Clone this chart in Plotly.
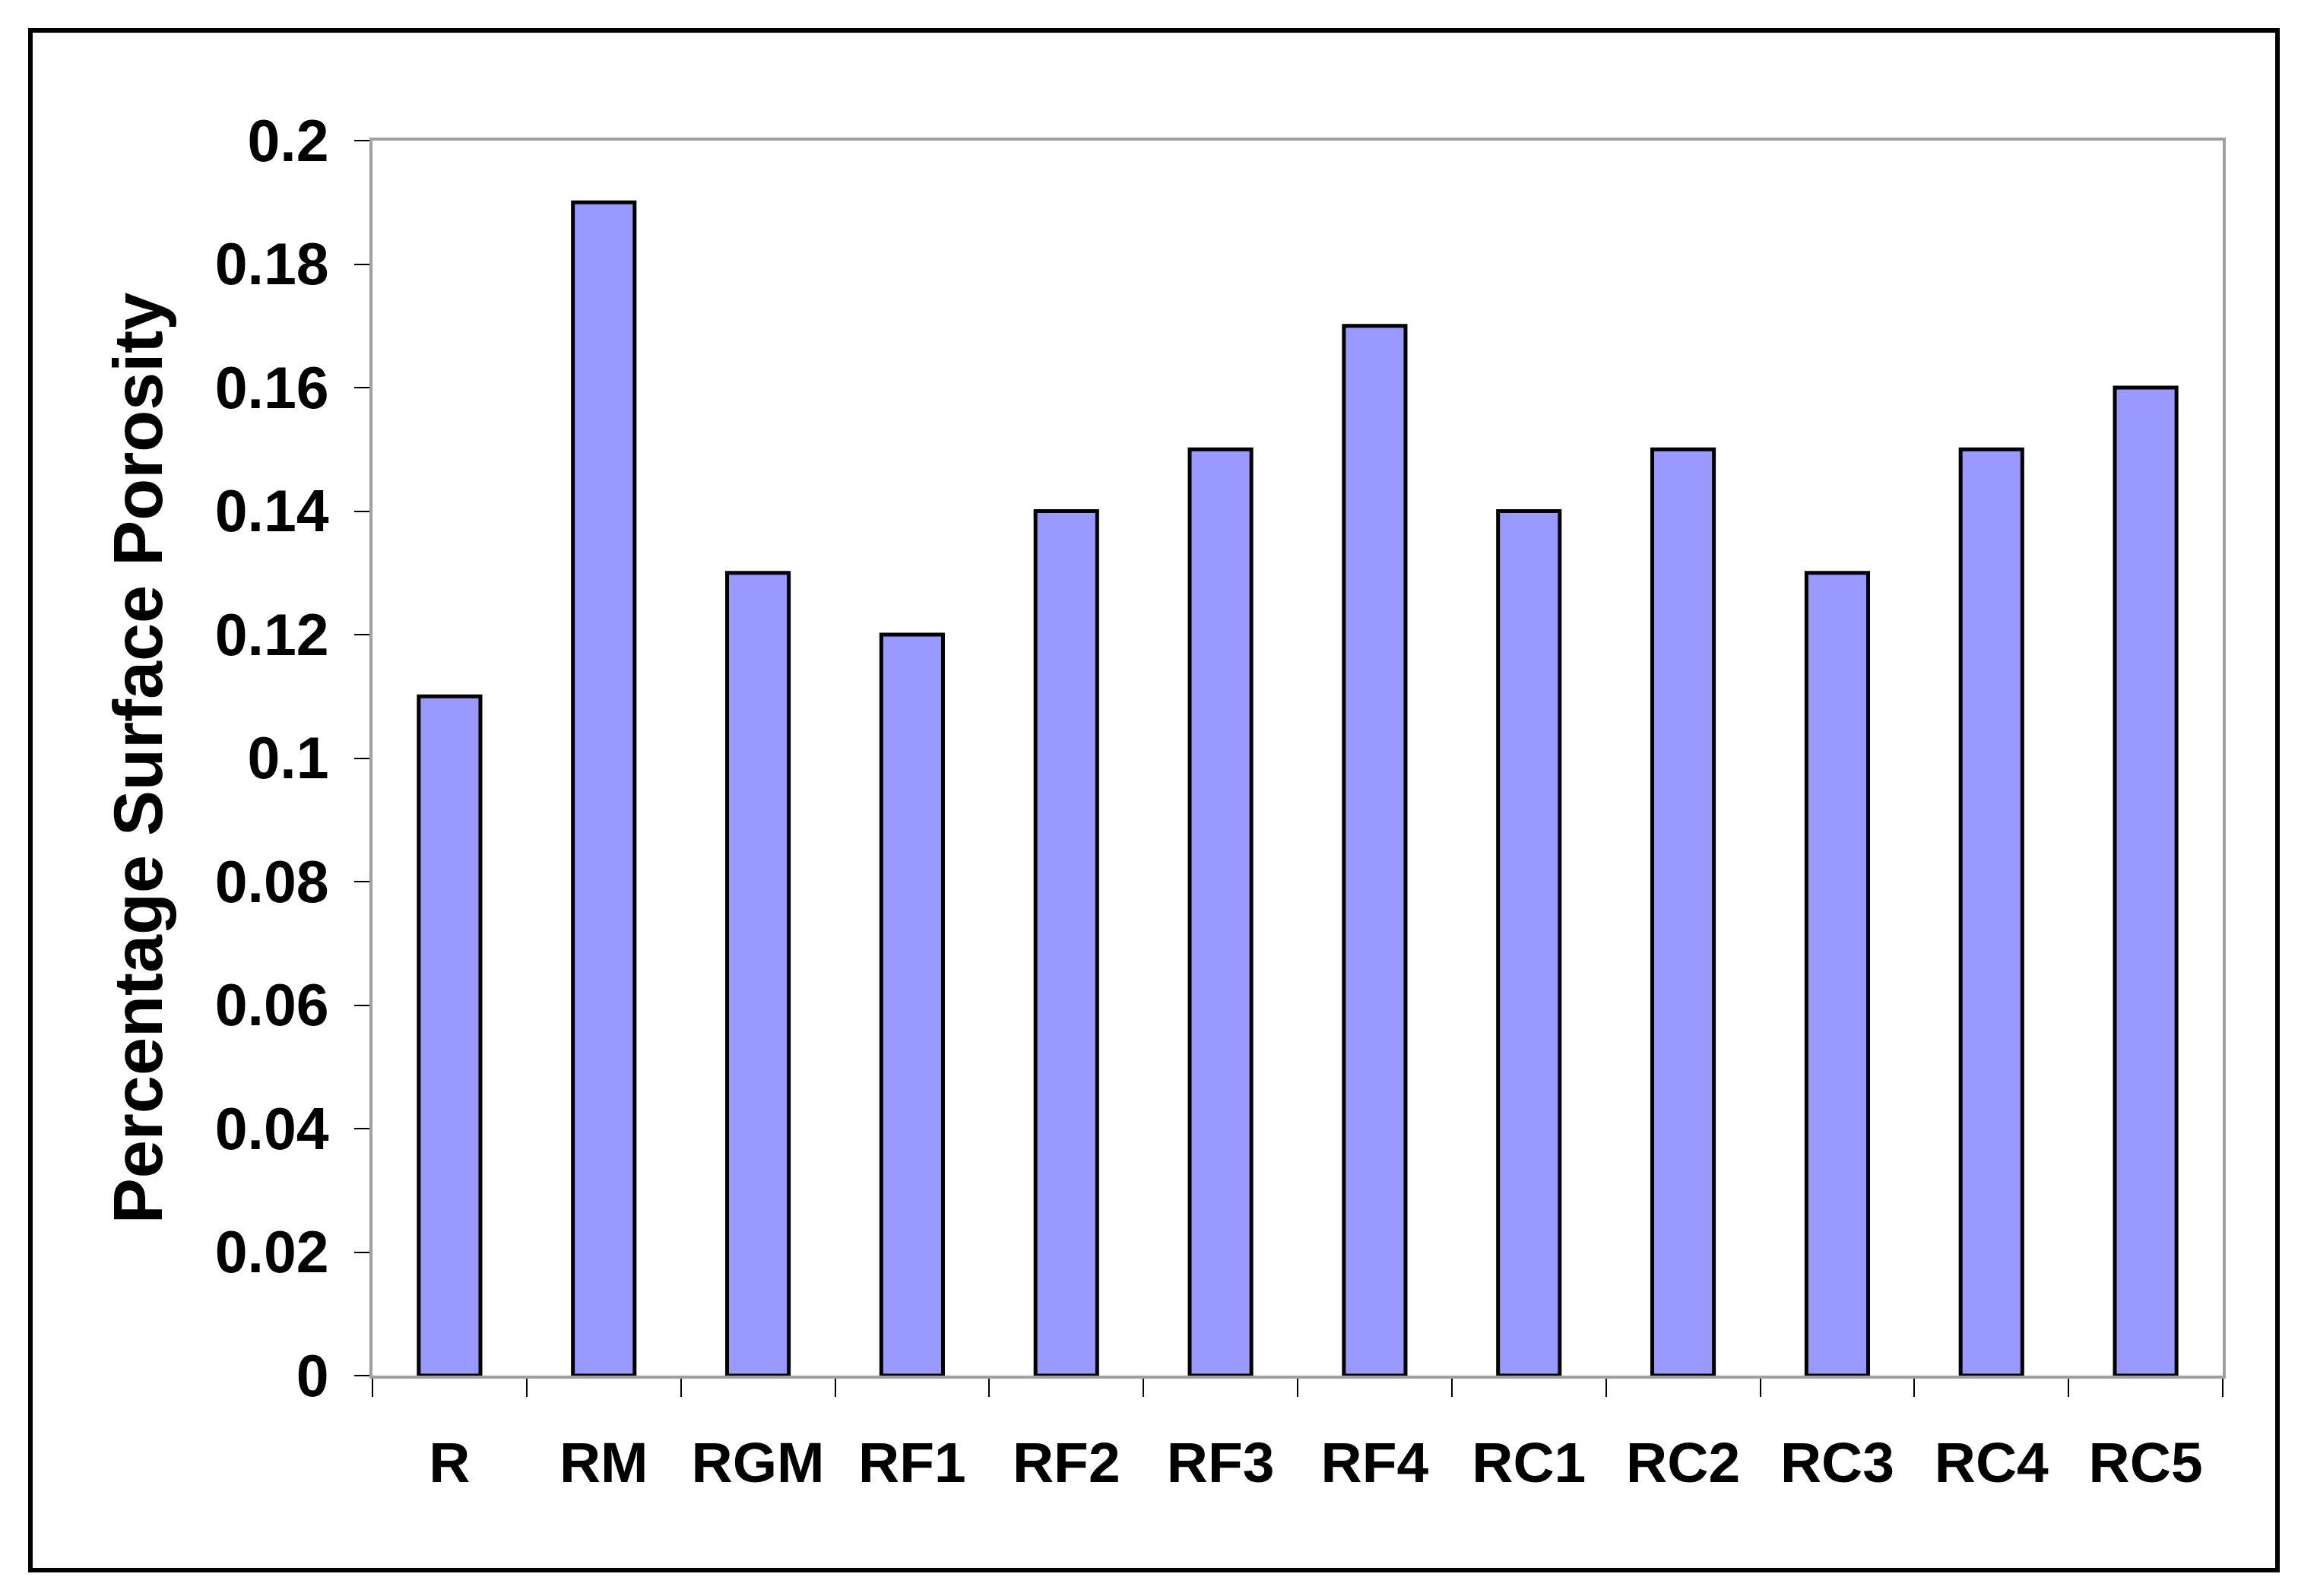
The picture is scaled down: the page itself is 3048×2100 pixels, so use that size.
import plotly.graph_objects as go

categories = ["R", "RM", "RGM", "RF1", "RF2", "RF3", "RF4", "RC1", "RC2", "RC3", "RC4", "RC5"]
porosity = [0.11, 0.19, 0.13, 0.12, 0.14, 0.15, 0.17, 0.14, 0.15, 0.13, 0.15, 0.16]
y_tick_values = [0, 0.02, 0.04, 0.06, 0.08, 0.1, 0.12, 0.14, 0.16, 0.18, 0.2]
y_tick_labels = ["0", "0.02", "0.04", "0.06", "0.08", "0.1", "0.12", "0.14", "0.16", "0.18", "0.2"]

# page has an 8px body margin; figure is sized to compensate
W, H = 3032, 2084
L, R, T, B = 482, 116, 177, 282
pw, ph = W - L - R, H - T - B

FONT = "Liberation Sans, Arial, sans-serif"

fig = go.Figure(go.Bar(
    x=categories, y=porosity,
    marker=dict(color="#9999ff", line=dict(color="black", width=5)),
))

# outer chart border (pixel positions in figure coords converted to paper coords)
bx0, bx1, by0, by1 = 32, 2988, 32, 2058
fig.add_shape(type="rect", xref="paper", yref="paper",
              x0=(bx0 - L) / pw, x1=(bx1 - L) / pw,
              y0=-(by1 - (H - B)) / ph, y1=1 + (T - by0) / ph,
              line=dict(color="black", width=6), fillcolor="rgba(0,0,0,0)", layer="below")

fig.update_layout(
    width=W, height=H, autosize=False,
    margin=dict(l=L, r=R, t=T, b=B, pad=0),
    paper_bgcolor="white", plot_bgcolor="white",
    bargap=0.6, showlegend=False,
    font=dict(family=FONT, color="black"),
)
fig.update_xaxes(
    type="category", tickson="boundaries",
    showline=True, linecolor="#a0a0a0", linewidth=4, mirror=True,
    ticks="outside", ticklen=24, tickwidth=2, tickcolor="black",
    tickfont=dict(family=FONT, size=75, color="black", weight="bold"),
    ticklabelstandoff=46,
    showgrid=False, zeroline=False,
)
fig.update_yaxes(
    range=[0, 0.2], tickvals=y_tick_values, ticktext=y_tick_labels,
    showline=True, linecolor="#a0a0a0", linewidth=4, mirror=True,
    ticks="outside", ticklen=20, tickwidth=2, tickcolor="black",
    tickfont=dict(family=FONT, size=77, color="black", weight="bold"),
    ticklabelstandoff=18,
    showgrid=False, zeroline=False,
    title=dict(text="Percentage Surface Porosity", standoff=40,
               font=dict(family=FONT, size=90, color="black", weight="bold")),
)

fig.write_html("out.html")
